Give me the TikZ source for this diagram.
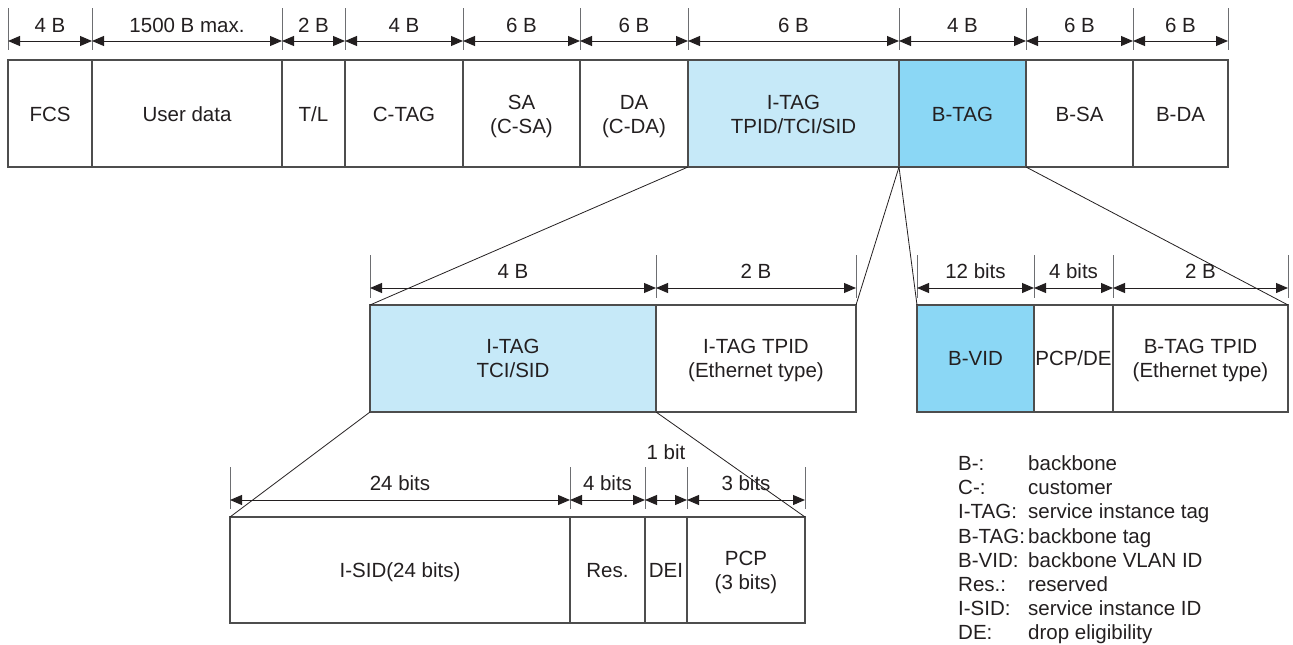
\documentclass[tikz,border=0pt]{standalone}
\usepackage{fontspec}
\setmainfont{Liberation Sans}
\usetikzlibrary{arrows.meta}
\definecolor{ink}{HTML}{231F20}
\definecolor{lightblue}{HTML}{C6E9F8}
\definecolor{midblue}{HTML}{8BD7F5}
\definecolor{frame}{HTML}{4D4D4D}
\definecolor{tickgray}{HTML}{6D6E71}
% struts that centre the capitals of each line (ys) or put them 1pt lower (yt)
\newcommand\ys{\rule[-4.75pt]{0pt}{24pt}}
\newcommand\yt{\rule[-3.75pt]{0pt}{24pt}}
\newcommand\dimseg[4]{\draw[dim] (#1.west |- #2) -- (#1.east |- #2); \node[lbl] (#1dim) at (#1.center |- #3) {#4};}
\newcommand\dimtick[3]{\draw[tick] (#1 |- #2) -- (#1 |- #3);}
\begin{document}
\begin{tikzpicture}[x=1pt,y=-1pt,
  every node/.style={font=\fontsize{20.5}{24}\selectfont, text=ink},
  field/.style={draw=frame, line width=1.2pt, inner sep=0pt, outer sep=0pt, align=center, anchor=north west},
  dim/.style={draw=ink, line width=1pt, {Triangle[length=12pt,width=10pt]}-{Triangle[length=12pt,width=10pt]}},
  tick/.style={draw=tickgray, line width=0.8pt},
  zoomline/.style={draw=ink, line width=0.8pt},
  lbl/.style={inner sep=0pt}]
\useasboundingbox (0,0) rectangle (1293,645);
% y levels
\coordinate (tT) at (0,8);   \coordinate (tB) at (0,50);  \coordinate (tA) at (0,41);  \coordinate (tL) at (0,25);
\coordinate (mT) at (0,255); \coordinate (mB) at (0,298); \coordinate (mA) at (0,288); \coordinate (mL) at (0,271);
\coordinate (bT) at (0,467); \coordinate (bB) at (0,509); \coordinate (bA) at (0,500); \coordinate (bL) at (0,483);
\coordinate (bL2) at (0,452);
% top row
\node[field, minimum width=84pt,  minimum height=107pt] (fcs)  at (8,60)    {\yt FCS};
\node[field, minimum width=190pt, minimum height=107pt] (ud)   at (92,60)   {\yt User data};
\node[field, minimum width=63pt,  minimum height=107pt] (tl)   at (282,60)  {\yt T/L};
\node[field, minimum width=118pt, minimum height=107pt] (ctag) at (345,60)  {\yt C-TAG};
\node[field, minimum width=117pt, minimum height=107pt] (sa)   at (463,60)  {\yt SA\\\yt (C-SA)};
\node[field, minimum width=108pt, minimum height=107pt] (da)   at (580,60)  {\yt DA\\\yt (C-DA)};
\node[field, minimum width=211pt, minimum height=107pt, fill=lightblue] (itag) at (688,60) {\yt I-TAG\\\yt TPID/TCI/SID};
\node[field, minimum width=127pt, minimum height=107pt, fill=midblue] (btag) at (899,60) {\yt B-TAG};
\node[field, minimum width=107pt, minimum height=107pt] (bsa)  at (1026,60) {\yt B-SA};
\node[field, minimum width=95pt,  minimum height=107pt] (bda)  at (1133,60) {\yt B-DA};
% middle left
\node[field, minimum width=286pt, minimum height=107pt, fill=lightblue] (tcisid) at (370,305) {\ys I-TAG\\\ys TCI/SID};
\node[field, minimum width=200pt, minimum height=107pt] (itpid) at (656,305) {\ys I-TAG TPID\\\ys (Ethernet type)};
% middle right
\node[field, minimum width=117pt, minimum height=107pt, fill=midblue] (bvid) at (917,305) {\ys B-VID};
\node[field, minimum width=79pt,  minimum height=107pt] (pcpde) at (1034,305) {\ys PCP/DE};
\node[field, minimum width=175pt, minimum height=107pt] (btpid) at (1113,305) {\ys B-TAG TPID\\\ys (Ethernet type)};
% bottom
\node[field, minimum width=340pt, minimum height=106pt] (isid) at (230,517) {\ys I-SID(24 bits)};
\node[field, minimum width=75pt,  minimum height=106pt] (res)  at (570,517) {\ys Res.};
\node[field, minimum width=42pt,  minimum height=106pt] (dei)  at (645,517) {\ys DEI};
\node[field, minimum width=118pt, minimum height=106pt] (pcp)  at (687,517) {\ys PCP\\\ys (3 bits)};
% top dimensions
\foreach \n in {fcs,ud,tl,ctag,sa,da,itag,btag,bsa,bda} {\dimtick{\n.west}{tT}{tB}}
\dimtick{bda.east}{tT}{tB}
\dimseg{fcs}{tA}{tL}{4 B}
\dimseg{ud}{tA}{tL}{1500 B max.}
\dimseg{tl}{tA}{tL}{2 B}
\dimseg{ctag}{tA}{tL}{4 B}
\dimseg{sa}{tA}{tL}{6 B}
\dimseg{da}{tA}{tL}{6 B}
\dimseg{itag}{tA}{tL}{6 B}
\dimseg{btag}{tA}{tL}{4 B}
\dimseg{bsa}{tA}{tL}{6 B}
\dimseg{bda}{tA}{tL}{6 B}
% middle dimensions
\foreach \n in {tcisid,itpid,bvid,pcpde,btpid} {\dimtick{\n.west}{mT}{mB}}
\dimtick{itpid.east}{mT}{mB}
\dimtick{btpid.east}{mT}{mB}
\dimseg{tcisid}{mA}{mL}{4 B}
\dimseg{itpid}{mA}{mL}{2 B}
\dimseg{bvid}{mA}{mL}{12 bits}
\dimseg{pcpde}{mA}{mL}{4 bits}
\dimseg{btpid}{mA}{mL}{2 B}
% bottom dimensions
\foreach \n in {isid,res,dei,pcp} {\dimtick{\n.west}{bT}{bB}}
\dimtick{pcp.east}{bT}{bB}
\dimseg{isid}{bA}{bL}{24 bits}
\dimseg{res}{bA}{bL}{4 bits}
\dimseg{dei}{bA}{bL2}{1 bit}
\dimseg{pcp}{bA}{bL}{3 bits}
% zoom connectors
\draw[zoomline] (itag.south west) -- (tcisid.north west);
\draw[zoomline] (itag.south east) -- (itpid.north east);
\draw[zoomline] (btag.south west) -- (bvid.north west);
\draw[zoomline] (btag.south east) -- (btpid.north east);
\draw[zoomline] (tcisid.south west) -- (isid.north west);
\draw[zoomline] (tcisid.south east) -- (pcp.north east);
% legend
\foreach \k/\a/\b in {0/B-:/backbone, 1/C-:/customer, 2/I-TAG:/service instance tag, 3/B-TAG:/backbone tag, 4/B-VID:/backbone VLAN ID, 5/Res.:/reserved, 6/I-SID:/service instance ID, 7/DE:/drop eligibility} {
  \node[lbl, anchor=base west] (lega\k) at (958,{470.5+24.2*\k}) {\a};
  \node[lbl, anchor=base west] (legb\k) at (1028,{470.5+24.2*\k}) {\b};
}
\end{tikzpicture}
\end{document}
